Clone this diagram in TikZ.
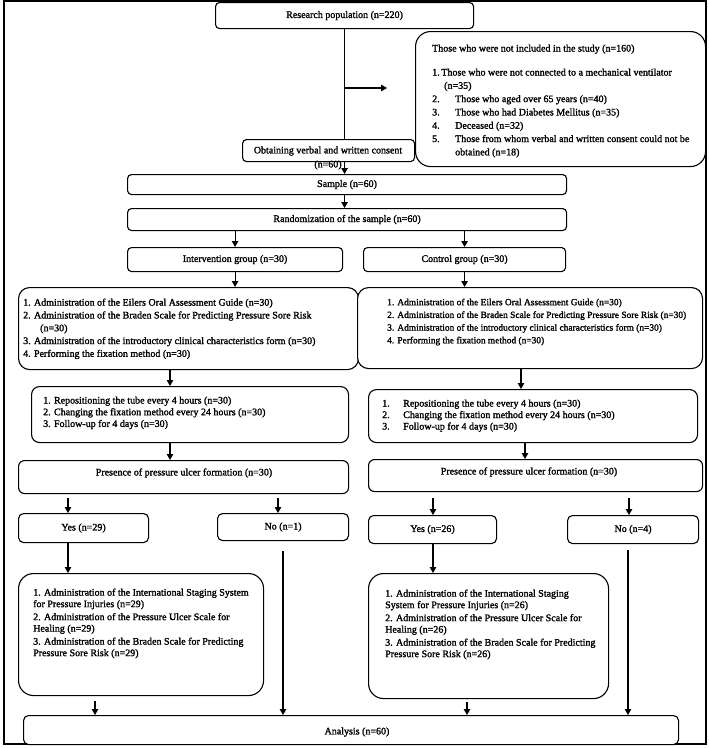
\documentclass[tikz,border=0pt]{standalone}
\usepackage{fontspec}
\setmainfont{Liberation Serif}[FakeBold=1.6]
\usetikzlibrary{arrows.meta}
\begin{document}
\begin{tikzpicture}[x=1pt,y=-1pt,
  box/.style={draw, line width=1.1pt, fill=white, rounded corners=4pt, inner sep=0pt, anchor=north west, font=\fontsize{10}{12}\selectfont},
  txt/.style={inner sep=0pt, anchor=north west, align=left, font=\fontsize{10}{12.8}\selectfont},
  ctxt/.style={inner sep=0pt, font=\fontsize{10}{12}\selectfont},
  arr/.style={line width=1.1pt, -{Triangle[length=6pt,width=6.5pt]}},
  ln/.style={line width=1.1pt}]
\useasboundingbox (0,0) rectangle (709,748);
\draw[line width=1.1pt] (4,1) rectangle (706,744);
% boxes
\node[box, minimum width=258pt, minimum height=26pt] (research) at (215,2) {Research population (n=220)};
\node[box, rounded corners=15pt, minimum width=290pt, minimum height=135pt] (excl) at (415,31) {};
\node[box, minimum width=172pt, minimum height=22pt] (obtain) at (242,139) {};
\node[box, minimum width=439pt, minimum height=20pt] (sample) at (127,174) {Sample (n=60)};
\node[box, minimum width=439pt, minimum height=22pt] (random) at (127,208) {Randomization of the sample (n=60)};
\node[box, minimum width=215pt, minimum height=24pt] (interv) at (127,247) {Intervention group (n=30)};
\node[box, minimum width=202pt, minimum height=24pt] (control) at (363,247) {Control group (n=30)};
\node[box, rounded corners=11pt, minimum width=340pt, minimum height=82pt] (adminL) at (18,287) {};
\node[box, rounded corners=11pt, minimum width=345pt, minimum height=81pt] (adminR) at (357,287) {};
\node[box, rounded corners=8pt, minimum width=317pt, minimum height=56pt] (followL) at (31,386) {};
\node[box, rounded corners=8pt, minimum width=329pt, minimum height=53pt] (followR) at (368,389) {};
\node[box, rounded corners=6pt, minimum width=330pt, minimum height=33pt] (presL) at (18,460) {};
\node[box, rounded corners=6pt, minimum width=334pt, minimum height=32pt] (presR) at (368,459) {};
\node[box, rounded corners=5pt, minimum width=130pt, minimum height=29pt] (yesL) at (18,513) {Yes (n=29)};
\node[box, rounded corners=5pt, minimum width=131pt, minimum height=27pt] (noL) at (217,513) {No (n=1)};
\node[box, rounded corners=5pt, minimum width=128pt, minimum height=28pt] (yesR) at (368,515) {Yes (n=26)};
\node[box, rounded corners=5pt, minimum width=131pt, minimum height=28pt] (noR) at (567,515) {No (n=4)};
\node[box, rounded corners=15pt, minimum width=245pt, minimum height=122pt] (box3L) at (18,573) {};
\node[box, rounded corners=15pt, minimum width=240pt, minimum height=125pt] (box3R) at (368,573) {};
\node[box, rounded corners=5pt, minimum width=655pt, minimum height=29pt] (analysis) at (23,715) {};
% texts
\node[ctxt, align=center, font=\fontsize{10}{14}\selectfont] (obtainT) at (328,158) {Obtaining verbal and written consent\\(n=60)};
\node[ctxt] (presLT) at (184,473) {Presence of pressure ulcer formation (n=30)};
\node[ctxt] (presRT) at (529,472) {Presence of pressure ulcer formation (n=30)};
\node[ctxt] (analysisT) at (357,732) {Analysis (n=60)};
\node[txt, font=\fontsize{10}{13.3}\selectfont] (exclT) at (432,44.4) {Those who were not included in the study (n=160)\\[10.7pt]
1.\,Those who were not connected to a mechanical ventilator\\
\hspace*{12pt}(n=35)\\
\makebox[23pt][l]{2.}Those who aged over 65 years (n=40)\\
\makebox[23pt][l]{3.}Those who had Diabetes Mellitus (n=35)\\
\makebox[23pt][l]{4.}Deceased (n=32)\\
\makebox[23pt][l]{5.}Those from whom verbal and written consent could not be\\
\hspace*{23pt}obtained (n=18)};
\node[txt] (adminLT) at (23,298.4) {1. Administration of the Eilers Oral Assessment Guide (n=30)\\
2. Administration of the Braden Scale for Predicting Pressure Sore Risk\\
\hspace*{17pt}(n=30)\\
3. Administration of the introductory clinical characteristics form (n=30)\\
4. Performing the fixation method (n=30)};
\node[txt, font=\fontsize{9.4}{12.7}\selectfont] (adminRT) at (387,298.4) {1. Administration of the Eilers Oral Assessment Guide (n=30)\\
2. Administration of the Braden Scale for Predicting Pressure Sore Risk (n=30)\\
3. Administration of the introductory clinical characteristics form (n=30)\\
4. Performing the fixation method (n=30)};
\node[txt, font=\fontsize{10}{11.7}\selectfont] (followLT) at (43,396.4) {1. Repositioning the tube every 4 hours (n=30)\\
2. Changing the fixation method every 24 hours (n=30)\\
3. Follow-up for 4 days (n=30)};
\node[txt, font=\fontsize{10}{11.5}\selectfont] (followRT) at (382,399.4) {\makebox[21pt][l]{1.}Repositioning the tube every 4 hours (n=30)\\
\makebox[21pt][l]{2.}Changing the fixation method every 24 hours (n=30)\\
\makebox[21pt][l]{3.}Follow-up for 4 days (n=30)};
\node[txt, font=\fontsize{10}{11.5}\selectfont] (box3LT) at (33,588.4) {1. Administration of the International Staging System\\
for Pressure Injuries (n=29)\\[1.5pt]
2. Administration of the Pressure Ulcer Scale for\\
Healing (n=29)\\[1.5pt]
3. Administration of the Braden Scale for Predicting\\
Pressure Sore Risk (n=29)};
\node[txt, font=\fontsize{10}{11.5}\selectfont] (box3RT) at (385,589.4) {1. Administration of the International Staging\\
System for Pressure Injuries (n=26)\\[1.5pt]
2. Administration of the Pressure Ulcer Scale for\\
Healing (n=26)\\[1.5pt]
3. Administration of the Braden Scale for Predicting\\
Pressure Sore Risk (n=26)};
% connectors
\draw[ln] (research.south) -- (research.south |- obtain.north);
\coordinate (exA) at (387,88);
\draw[arr] (research.south |- exA) -- (exA);
\draw[arr] (research.south |- obtain.south) -- (research.south |- sample.north);
\draw[arr] (research.south |- sample.south) -- (research.south |- random.north);
\draw[arr] (interv.north |- random.south) -- (interv.north);
\draw[arr] (control.north |- random.south) -- (control.north);
\draw[arr] (interv.south) -- (interv.south |- adminL.north);
\draw[arr] (control.south) -- (control.south |- adminR.north);
\coordinate (cL) at (170,0);
\coordinate (cR1) at (521,0);
\coordinate (cR2) at (525,0);
\draw[arr] (cL |- adminL.south) -- (cL |- followL.north);
\draw[arr] (cL |- followL.south) -- (cL |- presL.north);
\draw[arr] (cR1 |- adminR.south) -- (cR1 |- followR.north);
\draw[arr] (cR2 |- followR.south) -- (cR2 |- presR.north);
\coordinate (aYL) at (68,498);
\coordinate (aNL) at (278,498);
\coordinate (aYR) at (433,498);
\coordinate (aNR) at (629,498);
\draw[arr] (aYL) -- (aYL |- yesL.north);
\draw[arr] (aNL) -- (aNL |- noL.north);
\draw[arr] (aYR) -- (aYR |- yesR.north);
\draw[arr] (aNR) -- (aNR |- noR.north);
\draw[arr] (aYL |- yesL.south) -- (aYL |- box3L.north);
\draw[arr] (aYR |- yesR.south) -- (aYR |- box3R.north);
\coordinate (nL) at (283,551);
\coordinate (nR) at (628,550);
\coordinate (b3L) at (95,701);
\coordinate (b3R) at (467,702);
\draw[arr] (nL) -- (nL |- analysis.north);
\draw[arr] (nR) -- (nR |- analysis.north);
\draw[arr] (b3L) -- (b3L |- analysis.north);
\draw[arr] (b3R) -- (b3R |- analysis.north);
\end{tikzpicture}
\end{document}
